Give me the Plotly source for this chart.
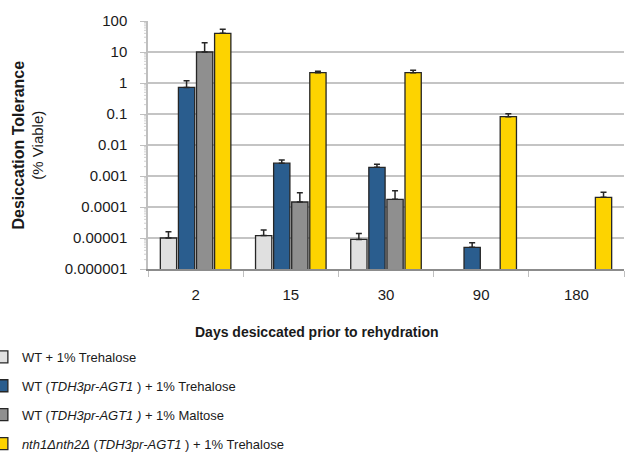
import plotly.graph_objects as go

# Days desiccated before rehydration
days = ["2", "15", "30", "90", "180"]

# % viable (mean) and upper error for each strain/condition
wt_tre = [1.0e-5, 1.2e-5, 9.0e-6, None, None]
wt_tre_err = [0.6e-5, 0.6e-5, 5.0e-6, None, None]

agt1_tre = [0.72, 2.6e-3, 1.9e-3, 5.0e-6, None]
agt1_tre_err = [0.46, 0.7e-3, 0.5e-3, 2.0e-6, None]

agt1_mal = [10.0, 1.45e-4, 1.77e-4, None, None]
agt1_mal_err = [10.0, 1.45e-4, 1.6e-4, None, None]

nth_tre = [40.0, 2.15, 2.15, 0.082, 2.05e-4]
nth_tre_err = [14.0, 0.25, 0.45, 0.02, 0.95e-4]

series_names = [
    "WT + 1% Trehalose",
    "WT (<i>TDH3pr-AGT1</i> ) + 1% Trehalose",
    "WT (<i>TDH3pr-AGT1 )</i> + 1% Maltose",
    "<i>nth1\u0394nth2\u0394</i> (<i>TDH3pr-AGT1</i> ) + 1% Trehalose",
]
series_vals = [wt_tre, agt1_tre, agt1_mal, nth_tre]
series_errs = [wt_tre_err, agt1_tre_err, agt1_mal_err, nth_tre_err]
colors = ["#e0e0e0", "#2a5d8e", "#8f8f8f", "#fdd300"]

# y-axis ticks (log scale decades)
tick_vals = [1e-6, 1e-5, 1e-4, 1e-3, 1e-2, 1e-1, 1, 10, 100]
tick_text = ["0.000001", "0.00001", "0.0001", "0.001", "0.01", "0.1", "1", "10", "100"]
# minor tick positions (2..9 within each decade)
minor_vals = [m * 10.0 ** e for e in range(-6, 2) for m in range(2, 10)]

FONT = "Liberation Sans, Arial, sans-serif"

fig = go.Figure()
for i, (name, vals, errs, col) in enumerate(zip(series_names, series_vals, series_errs, colors)):
    fig.add_trace(go.Bar(
        x=days, y=vals, name=name, legendgroup=str(i),
        marker=dict(color=col, line=dict(color="#262626", width=1.3)),
        error_y=dict(type="data", symmetric=False, array=errs,
                     arrayminus=[0] * len(errs), color="#262626",
                     thickness=1.5, width=3),
    ))

# short minor tick marks on the left of the log axis
for v in minor_vals:
    fig.add_shape(type="line", xref="paper", yref="y",
                  xsizemode="pixel", xanchor=0, x0=-4, x1=0, y0=v, y1=v,
                  line=dict(color="#cfcfcf", width=1), layer="below")

fig.update_layout(
    width=625, height=452,
    margin=dict(l=148, r=1, t=21, b=183, autoexpand=False),
    paper_bgcolor="white", plot_bgcolor="white",
    barmode="group", bargap=0.24, bargroupgap=0.1,
    font=dict(family=FONT, size=15, color="#1a1a1a"),
    showlegend=True,
    legend=dict(
        x=-0.349, xanchor="left", y=-0.294, yanchor="top",
        orientation="v", tracegroupgap=9,
        font=dict(family=FONT, size=13, color="#1a1a1a"),
        bgcolor="rgba(0,0,0,0)",
    ),
    xaxis=dict(
        type="category", showgrid=False,
        showline=True, linecolor="#8c8c8c", linewidth=1.5,
        ticks="outside", tickson="boundaries", ticklen=6,
        tickcolor="#bfbfbf", tickwidth=1,
        tickfont=dict(size=15), ticklabelstandoff=11,
    ),
    yaxis=dict(
        type="log", range=[-6, 2],
        tickvals=tick_vals, ticktext=tick_text,
        showgrid=True, gridcolor="#c4c4c4", gridwidth=1.5,
        showline=True, linecolor="#bfbfbf", linewidth=1.5,
        ticks="outside", ticklen=6, tickcolor="#bfbfbf",
        tickfont=dict(size=15), ticklabelstandoff=10,
        zeroline=False,
    ),
)

fig.add_annotation(
    text="<b><span style='font-size:16px'>Desiccation Tolerance</span></b><br>(% Viable)",
    xref="paper", yref="paper", x=0.0, y=0.5,
    xshift=-141, textangle=-90, showarrow=False,
    font=dict(family=FONT, size=15, color="#1a1a1a"),
)
fig.add_annotation(
    text="<b>Days desiccated prior to rehydration</b>",
    xref="paper", yref="paper", x=0.355, y=0, yshift=-73,
    showarrow=False, font=dict(family=FONT, size=14, color="#1a1a1a"),
)

fig.write_html("out.html")
